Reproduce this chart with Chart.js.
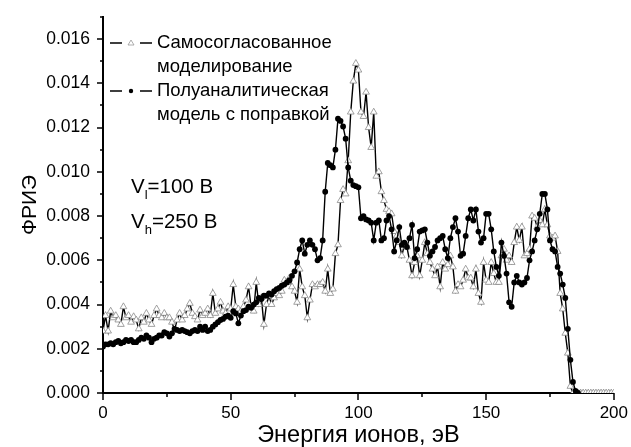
<!DOCTYPE html>
<html>
<head>
<meta charset="utf-8">
<script src="https://cdn.jsdelivr.net/npm/chart.js@4"></script>
<style>
  html, body { margin: 0; padding: 0; background: #fff; }
  #wrap { width: 631px; height: 447px; }
</style>
</head>
<body>
<div id="wrap"><canvas id="ied"></canvas></div>
<script>
// ion energy, eV
var energy = [
  0, 1, 2, 3, 4, 5, 6, 7, 8, 9, 10, 11, 12, 13, 14, 15, 16, 17, 18, 19,
  20, 21, 22, 23, 24, 25, 26, 27, 28, 29, 30, 31, 32, 33, 34, 35, 36, 37, 38, 39,
  40, 41, 42, 43, 44, 45, 46, 47, 48, 49, 50, 51, 52, 53, 54, 55, 56, 57, 58, 59,
  60, 61, 62, 63, 64, 65, 66, 67, 68, 69, 70, 71, 72, 73, 74, 75, 76, 77, 78, 79,
  80, 81, 82, 83, 84, 85, 86, 87, 88, 89, 90, 91, 92, 93, 94, 95, 96, 97, 98, 99,
  100, 101, 102, 103, 104, 105, 106, 107, 108, 109, 110, 111, 112, 113, 114, 115, 116, 117, 118, 119,
  120, 121, 122, 123, 124, 125, 126, 127, 128, 129, 130, 131, 132, 133, 134, 135, 136, 137, 138, 139,
  140, 141, 142, 143, 144, 145, 146, 147, 148, 149, 150, 151, 152, 153, 154, 155, 156, 157, 158, 159,
  160, 161, 162, 163, 164, 165, 166, 167, 168, 169, 170, 171, 172, 173, 174, 175, 176, 177, 178, 179,
  180, 181, 182, 183, 184, 185, 186, 187, 188, 189, 190, 191, 192, 193, 194, 195, 196, 197, 198, 199,
  200
];

// self-consistent simulation
var selfConsistent = [
  0.0028, 0.0035, 0.0028, 0.0037, 0.0034, 0.0035, 0.0033, 0.0031, 0.0039, 0.0034,
  0.0035, 0.0032, 0.00345, 0.0033, 0.0029, 0.0034, 0.0032, 0.0036, 0.0033, 0.0031,
  0.0035, 0.0038, 0.0035, 0.0034, 0.0036, 0.0034, 0.0034, 0.0032, 0.00285, 0.0033,
  0.0036, 0.0033, 0.0035, 0.0038, 0.00405, 0.0036, 0.00345, 0.0033, 0.00375, 0.0035,
  0.0036, 0.0038, 0.0035, 0.0045, 0.0036, 0.0038, 0.0041, 0.0037, 0.0036, 0.0039,
  0.0038, 0.0049, 0.0039, 0.0038, 0.0037, 0.0039, 0.0042, 0.0048, 0.0039, 0.0037,
  0.005, 0.004, 0.0043, 0.0031, 0.004, 0.0044, 0.004, 0.0043, 0.0045, 0.0044,
  0.0046, 0.0051, 0.005, 0.0052, 0.0048, 0.0046, 0.0041, 0.0056, 0.0048, 0.0044,
  0.0034, 0.0042, 0.0049, 0.0048, 0.0049, 0.0049, 0.005, 0.0046, 0.0056, 0.0045,
  0.0047, 0.0063, 0.0067, 0.0087, 0.0092, 0.009, 0.0105, 0.0127, 0.0141, 0.0149,
  0.0146, 0.0127, 0.0125, 0.0136, 0.012, 0.0111, 0.0127, 0.0098, 0.01, 0.0091,
  0.0087, 0.0083, 0.0082, 0.0081, 0.0073, 0.0071, 0.0068, 0.0062, 0.0067, 0.0066,
  0.006, 0.0053, 0.0059, 0.0062, 0.0053, 0.006, 0.0068, 0.0063, 0.0059, 0.0056,
  0.0053, 0.0057, 0.0048, 0.0059, 0.0056, 0.0058, 0.0062, 0.0057, 0.0046, 0.0049,
  0.0048, 0.0051, 0.0056, 0.0052, 0.0052, 0.0048, 0.0056, 0.0045, 0.0041, 0.0059,
  0.0051, 0.005, 0.0059, 0.0054, 0.005, 0.005, 0.0062, 0.0065, 0.006, 0.0062,
  0.0059, 0.0068, 0.0075, 0.0069, 0.0075, 0.0062, 0.0063, 0.0065, 0.008, 0.0079,
  0.0075, 0.0078, 0.0076, 0.0083, 0.0076, 0.0071, 0.007, 0.0071, 0.0064, 0.0045,
  0.0038, 0.0027, 0.0018, 0.0003, 0, 0, 0, 0, 0, 0,
  0, 0, 0, 0, 0, 0, 0, 0, 0, 0,
  0
];

// semi-analytical model with correction
var semiAnalytic = [
  0.0021, 0.0022, 0.0022, 0.00225, 0.0022, 0.0023, 0.00235, 0.00225, 0.0023, 0.0024,
  0.00235, 0.0024, 0.0023, 0.0023, 0.0024, 0.0025, 0.00245, 0.0026, 0.0025, 0.0023,
  0.00245, 0.0025, 0.0026, 0.0026, 0.00275, 0.0027, 0.00255, 0.0027, 0.0029, 0.00285,
  0.0028, 0.00285, 0.0028, 0.00275, 0.0027, 0.0028, 0.00285, 0.0028, 0.003, 0.00285,
  0.003, 0.0028, 0.00285, 0.003, 0.0031, 0.0032, 0.0033, 0.00335, 0.00345, 0.0035,
  0.0034, 0.0037, 0.0036, 0.00315, 0.0035, 0.0037, 0.00375, 0.0039, 0.00385, 0.004,
  0.0041, 0.0043, 0.00425, 0.0044, 0.0044, 0.0045, 0.00445, 0.0046, 0.0047, 0.00475,
  0.00485, 0.0049, 0.005, 0.0051, 0.0053, 0.0055, 0.0059, 0.0065, 0.0069, 0.0063,
  0.0067, 0.0069, 0.0067, 0.0065, 0.006, 0.0061, 0.0069, 0.0091, 0.0104, 0.0103,
  0.0102, 0.011, 0.0124, 0.0123, 0.01205, 0.0115, 0.0102, 0.0096, 0.0094, 0.00935,
  0.0093, 0.0079, 0.008, 0.00785, 0.0078, 0.0077, 0.0069, 0.0077, 0.0078, 0.0069,
  0.007, 0.0078, 0.008, 0.0074, 0.0064, 0.0069, 0.0075, 0.0067, 0.0068, 0.0066,
  0.007, 0.0076, 0.0061, 0.0065, 0.0073, 0.00735, 0.0074, 0.0068, 0.0062, 0.0064,
  0.0066, 0.0069, 0.007, 0.0071, 0.0065, 0.0061, 0.007, 0.0075, 0.0079, 0.0073,
  0.0062, 0.0063, 0.0071, 0.0079, 0.0083, 0.0078, 0.0083, 0.0073, 0.0068, 0.007,
  0.0081, 0.0081, 0.0074, 0.0064, 0.0057, 0.0053, 0.0068, 0.0062, 0.0054, 0.0041,
  0.0039, 0.005, 0.0053, 0.005, 0.0049, 0.005, 0.0052, 0.006, 0.0064, 0.0069,
  0.0074, 0.0081, 0.009, 0.009, 0.0083, 0.0069, 0.0065, 0.0064, 0.0057, 0.0054,
  0.0049, 0.0043, 0.0029, 0.0015, 0.0005, 0.0001, 0
];

var xMajor = [0, 50, 100, 150, 200];
var xMinor = [25, 75, 125, 175];
var yMajor = [0, 0.002, 0.004, 0.006, 0.008, 0.010, 0.012, 0.014, 0.016];
var yMinor = [0.001, 0.003, 0.005, 0.007, 0.009, 0.011, 0.013, 0.015, 0.017];

var seriesNames = [
  ['Самосогласованное', 'моделирование'],
  ['Полуаналитическая', 'модель с поправкой']
];

var FONT = '"Liberation Sans", Arial, sans-serif';

function toPoints(values) {
  return values.map(function(v, i) { return { x: energy[i], y: v }; });
}

// Origin-style ticks: long majors, short minors, all pointing outwards
var outerTicks = {
  id: 'outerTicks',
  afterDraw: function(chart) {
    var ctx = chart.ctx;
    var xs = chart.scales.x, ys = chart.scales.y;
    var area = chart.chartArea;
    ctx.save();
    ctx.strokeStyle = '#000';
    ctx.lineWidth = 1.5;
    ctx.beginPath();
    xMajor.forEach(function(v) {
      var p = Math.round(xs.getPixelForValue(v));
      ctx.moveTo(p, area.bottom); ctx.lineTo(p, area.bottom + 7);
    });
    xMinor.forEach(function(v) {
      var p = Math.round(xs.getPixelForValue(v));
      ctx.moveTo(p, area.bottom); ctx.lineTo(p, area.bottom + 4);
    });
    yMajor.forEach(function(v) {
      var p = Math.round(ys.getPixelForValue(v));
      ctx.moveTo(area.left, p); ctx.lineTo(area.left - 6, p);
    });
    yMinor.forEach(function(v) {
      var p = Math.round(ys.getPixelForValue(v));
      ctx.moveTo(area.left, p); ctx.lineTo(area.left - 3, p);
    });
    ctx.stroke();
    ctx.restore();
  }
};

// legend box in the top-left corner and the voltage notes
var notes = {
  id: 'notes',
  afterDraw: function(chart) {
    var ctx = chart.ctx;
    ctx.save();
    ctx.textBaseline = 'middle';
    ctx.fillStyle = '#000';
    ctx.font = '18.5px ' + FONT;
    var rows = [43, 91];
    seriesNames.forEach(function(lines, i) {
      var y = rows[i];
      ctx.strokeStyle = '#000';
      ctx.lineWidth = 1.5;
      ctx.beginPath();
      ctx.moveTo(110, y); ctx.lineTo(122, y);
      ctx.moveTo(140, y); ctx.lineTo(152, y);
      ctx.stroke();
      if (i === 0) {
        ctx.strokeStyle = '#999';
        ctx.lineWidth = 0.8;
        ctx.beginPath();
        ctx.moveTo(131, y - 3); ctx.lineTo(134, y + 2); ctx.lineTo(128, y + 2);
        ctx.closePath();
        ctx.stroke();
      } else {
        ctx.beginPath();
        ctx.arc(131, y, 2.2, 0, Math.PI * 2);
        ctx.fill();
      }
      ctx.fillText(lines[0], 157, y);
      ctx.fillText(lines[1], 157, y + 24);
    });

    function voltage(sub, rest, y) {
      var x = 131;
      ctx.font = '20.5px ' + FONT;
      ctx.fillText('V', x, y);
      x += ctx.measureText('V').width;
      ctx.font = '13px ' + FONT;
      ctx.fillText(sub, x, y + 8);
      x += ctx.measureText(sub).width;
      ctx.font = '20.5px ' + FONT;
      ctx.fillText(rest, x, y);
    }
    voltage('l', '=100 В', 187);
    voltage('h', '=250 В', 222);
    ctx.restore();
  }
};

var ctx = document.getElementById('ied').getContext('2d');
var chart = new Chart(ctx, {
  type: 'line',
  data: {
    datasets: [
      {
        label: seriesNames[1].join(' '),
        data: toPoints(semiAnalytic),
        borderColor: '#000',
        borderWidth: 1.4,
        pointStyle: 'circle',
        pointRadius: 2.9,
        pointBackgroundColor: '#000',
        pointBorderColor: '#000',
        pointBorderWidth: 0,
        tension: 0,
        order: 1
      },
      {
        label: seriesNames[0].join(' '),
        data: toPoints(selfConsistent),
        borderColor: '#000',
        borderWidth: 1.4,
        pointStyle: 'triangle',
        pointRadius: 3.9,
        pointBackgroundColor: '#fff',
        pointBorderColor: '#8a8a8a',
        pointBorderWidth: 0.8,
        tension: 0,
        order: 2
      }
    ]
  },
  options: {
    responsive: true,
    maintainAspectRatio: false,
    animation: false,
    devicePixelRatio: 1,
    layout: { padding: { left: 0, right: 17, top: 17, bottom: 0 } },
    plugins: {
      legend: { display: false },
      tooltip: { enabled: false }
    },
    scales: {
      x: {
        type: 'linear',
        min: 0,
        max: 200,
        afterFit: function(scale) { scale.height = 54; },
        afterBuildTicks: function(scale) {
          scale.ticks = xMajor.map(function(v) { return { value: v }; });
        },
        grid: { display: true, drawOnChartArea: false, drawTicks: true, tickLength: 7, tickColor: 'rgba(0,0,0,0)' },
        border: { display: true, color: '#000', width: 2 },
        ticks: {
          color: '#000',
          padding: 3,
          maxRotation: 0,
          font: { family: FONT, size: 17 },
          callback: function(v) { return String(v); }
        },
        title: {
          display: true,
          text: 'Энергия ионов, эВ',
          color: '#000',
          font: { family: FONT, size: 23.5, lineHeight: 1 },
          padding: { top: 0, bottom: 0 }
        }
      },
      y: {
        type: 'linear',
        min: 0,
        max: 0.017,
        afterFit: function(scale) { scale.width = 103; },
        afterBuildTicks: function(scale) {
          scale.ticks = yMajor.map(function(v) { return { value: v }; });
        },
        grid: { display: true, drawOnChartArea: false, drawTicks: true, tickLength: 7, tickColor: 'rgba(0,0,0,0)' },
        border: { display: true, color: '#000', width: 2 },
        ticks: {
          color: '#000',
          padding: 6,
          font: { family: FONT, size: 17.5 },
          callback: function(v) { return v.toFixed(3); }
        },
        title: {
          display: true,
          text: 'ФРИЭ',
          color: '#000',
          font: { family: FONT, size: 21, lineHeight: 1 },
          padding: { top: 20, bottom: 0 }
        }
      }
    }
  },
  plugins: [outerTicks, notes]
});
</script>
</body>
</html>
